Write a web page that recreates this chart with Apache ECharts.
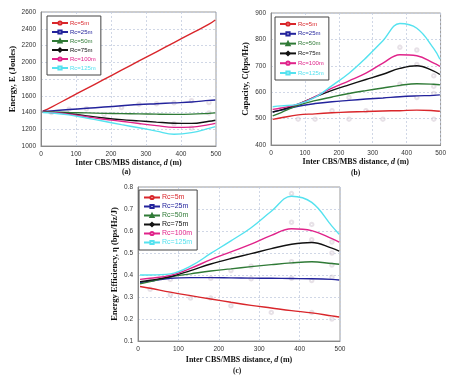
<!DOCTYPE html>
<html>
<head>
<meta charset="utf-8">
<script src="https://cdn.jsdelivr.net/npm/echarts@6/dist/echarts.min.js"></script>
<style>
  html, body { margin: 0; padding: 0; background: #fff; }
  #chart { width: 449px; height: 375px; }
</style>
</head>
<body>
<div id="chart"></div>
<script>
// distances d (m) where the curves are sampled
const distances = [5, 30, 80, 130, 180, 230, 280, 330, 380, 430, 480, 498];
const seriesNames = ['Rc=5m', 'Rc=25m', 'Rc=50m', 'Rc=75m', 'Rc=100m', 'Rc=125m'];

// (a) energy, Joules
const energyRc5 = [1415, 1465, 1575, 1685, 1795, 1905, 2015, 2125, 2235, 2345, 2455, 2505];
const energyRc25 = [1415, 1420, 1435, 1450, 1465, 1480, 1495, 1505, 1515, 1525, 1545, 1550];
const energyRc50 = [1410, 1408, 1400, 1395, 1390, 1387, 1384, 1380, 1378, 1380, 1390, 1395];
const energyRc75 = [1405, 1400, 1385, 1360, 1335, 1315, 1300, 1285, 1272, 1270, 1295, 1308];
const energyRc100 = [1405, 1400, 1380, 1350, 1320, 1295, 1268, 1243, 1222, 1225, 1255, 1270];
const energyRc125 = [1400, 1395, 1372, 1335, 1295, 1255, 1218, 1178, 1140, 1160, 1210, 1232];

// (b) capacity, bps/Hz
const capRc5 = [497, 503, 514, 518, 522, 525, 527, 529, 530, 532, 530, 528];
const capRc25 = [525, 532, 547, 557, 564, 569, 574, 578, 583, 586, 588, 590];
const capRc50 = [510, 523, 550, 568, 582, 595, 606, 616, 626, 632, 630, 628];
const capRc75 = [525, 533, 555, 582, 607, 628, 648, 668, 690, 700, 680, 667];
const capRc100 = [535, 540, 555, 583, 615, 643, 672, 710, 742, 738, 710, 698];
const capRc125 = [545, 548, 555, 580, 625, 672, 730, 795, 860, 842, 765, 725];

// (c) energy efficiency, bps/Hz/J
const eeRc5 = [0.348, 0.340, 0.322, 0.306, 0.291, 0.276, 0.262, 0.250, 0.238, 0.228, 0.214, 0.209];
const eeRc25 = [0.365, 0.372, 0.385, 0.388, 0.388, 0.387, 0.386, 0.385, 0.384, 0.383, 0.380, 0.377];
const eeRc50 = [0.360, 0.370, 0.392, 0.405, 0.418, 0.428, 0.438, 0.447, 0.455, 0.460, 0.452, 0.449];
const eeRc75 = [0.370, 0.376, 0.392, 0.420, 0.450, 0.475, 0.497, 0.520, 0.540, 0.548, 0.522, 0.509];
const eeRc100 = [0.380, 0.385, 0.398, 0.430, 0.470, 0.505, 0.540, 0.580, 0.610, 0.602, 0.565, 0.549];
const eeRc125 = [0.400, 0.400, 0.405, 0.440, 0.498, 0.555, 0.615, 0.690, 0.758, 0.730, 0.622, 0.585];

// faint simulation markers
const simEnergy = [[30, 1400], [80, 1440], [130, 1445], [230, 1460], [280, 1500], [330, 1505], [380, 1515], [430, 1540], [480, 1520], [180, 1375], [380, 1265], [480, 1395], [430, 1215]];
const simCap = [[80, 498], [130, 498], [230, 498], [330, 498], [480, 498], [180, 530], [280, 530], [230, 580], [430, 580], [480, 595], [380, 770], [430, 760], [430, 705], [480, 662], [380, 630], [480, 622]];
const simEE = [[30, 0.335], [80, 0.31], [130, 0.295], [180, 0.295], [230, 0.26], [330, 0.23], [430, 0.23], [480, 0.2], [80, 0.38], [180, 0.385], [280, 0.383], [380, 0.385], [430, 0.375], [480, 0.39], [380, 0.64], [430, 0.63], [480, 0.55], [380, 0.77], [430, 0.56], [480, 0.5], [230, 0.42], [280, 0.44], [380, 0.46], [480, 0.445]];

const colors = ['#d9262b', '#23239c', '#2f7a36', '#111111', '#e0238a', '#55e2ef'];
const symbols = ['emptyCircle', 'emptyRect', 'emptyTriangle', 'emptyDiamond', 'emptyCircle', 'emptyRect'];

const chart = echarts.init(document.getElementById('chart'));

const gridBox = { show: true, borderColor: '#9a9a9a', borderWidth: 1 };
const grids = [
  Object.assign({ left: 41, top: 12, width: 175, height: 134 }, gridBox),
  Object.assign({ left: 271, top: 13, width: 171, height: 132 }, gridBox),
  Object.assign({ left: 138, top: 187, width: 202, height: 154 }, gridBox)
];

const tickFont = { fontFamily: 'Liberation Sans', fontSize: 6.5, color: '#333' };
const split = { show: true, lineStyle: { color: '#c5cde0', type: [2, 2], width: 0.8 } };
const titleRich = {
  b: { fontFamily: 'Liberation Serif', fontWeight: 'bold', fontSize: 8, color: '#111' },
  i: { fontFamily: 'Liberation Serif', fontWeight: 'bold', fontStyle: 'italic', fontSize: 8, color: '#111' }
};

function xAxis(gi, size) {
  return {
    type: 'value', gridIndex: gi, min: 0, max: 500, interval: 100,
    axisLine: { lineStyle: { color: '#888' } },
    axisTick: { show: false },
    axisLabel: Object.assign({ margin: 5 }, tickFont),
    splitLine: split,
    name: '{b|Inter CBS/MBS distance, }{i|d}{b| (m)}',
    nameLocation: 'middle', nameGap: size,
    nameTextStyle: { rich: titleRich }
  };
}

function yAxis(gi, min, max, step, name, gap, digits, fs) {
  return {
    type: 'value', gridIndex: gi, min: min, max: max, interval: step,
    axisLine: { show: true, lineStyle: { color: '#888' } },
    axisTick: { show: false },
    axisLabel: Object.assign({ margin: 5, formatter: v => v.toFixed(digits) }, tickFont),
    splitLine: split,
    name: name, nameLocation: 'middle', nameGap: gap,
    nameTextStyle: { fontFamily: 'Liberation Serif', fontWeight: 'bold', fontSize: fs, color: '#111' }
  };
}

function legend(left, top, fs, gap) {
  return {
    orient: 'vertical', left: left, top: top,
    itemWidth: 16, itemHeight: 4, itemGap: gap,
    padding: [4, 5, 4, 4],
    borderColor: '#444', borderWidth: 1, backgroundColor: '#fff',
    itemStyle: { borderWidth: 0.7 },
    data: seriesNames.map((n, i) => ({ name: n, textStyle: { color: colors[i] } })),
    textStyle: { fontFamily: 'Liberation Sans', fontSize: fs, padding: [0, 0, 0, -3] },
    selectedMode: false
  };
}

function lines(gi, arrays) {
  return arrays.map((arr, i) => ({
    name: seriesNames[i], type: 'line', xAxisIndex: gi, yAxisIndex: gi,
    data: distances.map((d, k) => [d, arr[k]]),
    smooth: 0.4, showSymbol: false, symbol: symbols[i], symbolSize: 3,
    itemStyle: { color: colors[i] },
    lineStyle: { color: colors[i], width: 1.4 },
    z: 3
  }));
}

function sims(gi, pts) {
  return {
    type: 'scatter', xAxisIndex: gi, yAxisIndex: gi, data: pts,
    symbol: 'emptyCircle', symbolSize: 3.5,
    itemStyle: { color: '#c9bcc9', opacity: 0.45, borderWidth: 0.8 }, z: 2, silent: true
  };
}

const titleStyle = { fontFamily: 'Liberation Serif', fontWeight: 'bold', fontSize: 7.5, color: '#111' };

chart.setOption({
  animation: false,
  backgroundColor: '#fff',
  grid: grids,
  xAxis: [xAxis(0, 13), xAxis(1, 13), xAxis(2, 15)],
  yAxis: [
    yAxis(0, 1000, 2600, 200, 'Energy, E (Joules)', 24, 0, 8.5),
    yAxis(1, 400, 900, 100, 'Capacity, C(bps/Hz)', 21, 0, 8.5),
    yAxis(2, 0.1, 0.8, 0.1, 'Energy Efficiency, \u03b7 (bps/Hz/J)', 19, 1, 8.5)
  ],
  legend: [legend(47, 16, 6, 3), legend(275, 17, 6, 3.8), legend(139, 190, 7, 2)],
  title: [
    { text: '(a)', left: 122, top: 168, textStyle: titleStyle, padding: 0 },
    { text: '(b)', left: 351, top: 169, textStyle: titleStyle, padding: 0 },
    { text: '(c)', left: 233, top: 367, textStyle: titleStyle, padding: 0 }
  ],
  series: [].concat(
    sims(0, simEnergy), sims(1, simCap), sims(2, simEE),
    lines(0, [energyRc5, energyRc25, energyRc50, energyRc75, energyRc100, energyRc125]),
    lines(1, [capRc5, capRc25, capRc50, capRc75, capRc100, capRc125]),
    lines(2, [eeRc5, eeRc25, eeRc50, eeRc75, eeRc100, eeRc125])
  )
});
</script>
</body>
</html>
